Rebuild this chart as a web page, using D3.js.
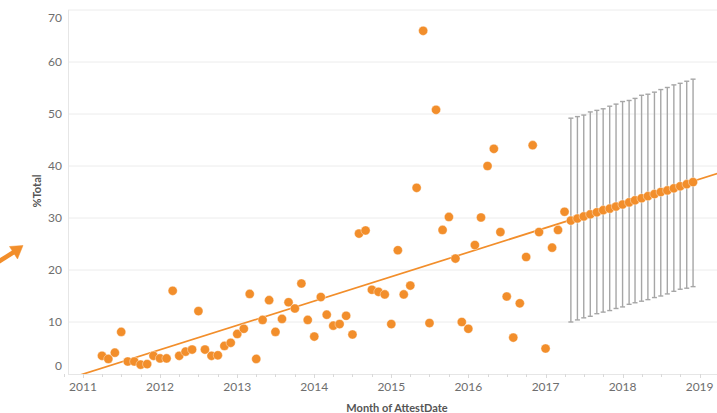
<!DOCTYPE html>
<html>
<head>
<meta charset="utf-8">
<script src="https://cdn.jsdelivr.net/npm/d3@7"></script>
<style>
  html, body { margin: 0; padding: 0; background: #fff; }
  svg { display: block; font-family: Lato, "Open Sans", sans-serif; }
</style>
</head>
<body>
<svg id="chart" width="717" height="413"></svg>
<script>
// actual monthly %Total, Apr 2011 .. Apr 2017
const actualStart = "2011-04";
const actualValues = [
  3.5, 2.9, 4.1, 8.1, 2.4, 2.4, 1.8, 1.9, 3.5,
  3.0, 3.0, 16.0, 3.5, 4.3, 4.7, 12.1, 4.7, 3.5, 3.6, 5.4, 6.0,
  7.7, 8.7, 15.4, 2.9, 10.4, 14.2, 8.1, 10.6, 13.8, 12.6, 17.4, 10.4,
  7.2, 14.8, 11.4, 9.3, 9.6, 11.2, 7.6, 27.0, 27.6, 16.2, 15.8, 15.3,
  9.6, 23.8, 15.3, 17.0, 35.8, 66.0, 9.8, 50.8, 27.7, 30.2, 22.2, 10.0,
  8.7, 24.8, 30.1, 40.0, 43.3, 27.3, 14.9, 7.0, 13.6, 22.5, 44.0, 27.3,
  4.9, 24.3, 27.7, 31.2
];

// forecast May 2017 .. Dec 2018 with prediction interval
const forecastStart = "2017-05";
const forecastValues = [29.5, 29.9, 30.3, 30.7, 31.1, 31.5, 31.8, 32.2, 32.6, 33.0,
                        33.4, 33.8, 34.2, 34.6, 35.0, 35.3, 35.7, 36.1, 36.5, 36.9];
const forecastUpper = [49.2, 49.5, 49.8, 50.4, 50.7, 51.0, 51.5, 51.9, 52.4, 52.6,
                       53.0, 53.6, 53.8, 54.2, 54.7, 55.1, 55.6, 55.9, 56.3, 56.7];
const forecastLower = [10.0, 10.4, 10.8, 11.1, 11.6, 11.9, 12.2, 12.6, 12.9, 13.4,
                       13.7, 14.0, 14.3, 14.7, 15.0, 15.4, 15.9, 16.3, 16.5, 16.8];

// linear trend line end points
const trendDates = ["2010-10", "2019-05"];
const trendValues = [-1.2, 39.0];

const yTicks = [0, 10, 20, 30, 40, 50, 60, 70];
const yearTicks = ["2011", "2012", "2013", "2014", "2015", "2016", "2017", "2018", "2019"];

const orange = "#f28e2b";
const parseMonth = d3.timeParse("%Y-%m");
const parseYear = d3.timeParse("%Y");

const plot = { left: 68, right: 717, top: 10, bottom: 374 };

const x = d3.scaleTime()
  .domain([parseYear("2011"), parseYear("2019")])
  .range([83, 699.6]);
const y = d3.scaleLinear().domain([0, 70]).range([plot.bottom, plot.top]);

function monthsFrom(start, n) {
  const s = parseMonth(start);
  return d3.timeMonth.range(s, d3.timeMonth.offset(s, n));
}

const actual = monthsFrom(actualStart, actualValues.length)
  .map((d, i) => ({ date: d, value: actualValues[i] }));
const forecast = monthsFrom(forecastStart, forecastValues.length)
  .map((d, i) => ({ date: d, value: forecastValues[i], hi: forecastUpper[i], lo: forecastLower[i] }));

const svg = d3.select("#chart");

svg.append("defs").append("clipPath").attr("id", "plot-clip")
  .append("rect")
  .attr("x", plot.left).attr("y", plot.top - 6)
  .attr("width", plot.right - plot.left).attr("height", plot.bottom - plot.top + 6);

// Gridlines
svg.append("g")
  .selectAll("line")
  .data(yTicks.filter(t => t > 0))
  .join("line")
  .attr("x1", plot.left).attr("x2", plot.right)
  .attr("y1", d => y(d)).attr("y2", d => y(d))
  .attr("stroke", "#ececec").attr("stroke-width", 1);

// Axis lines
svg.append("line")
  .attr("x1", plot.left + 0.5).attr("x2", plot.left + 0.5)
  .attr("y1", plot.top).attr("y2", plot.bottom)
  .attr("stroke", "#e6e6e6");
svg.append("line")
  .attr("x1", plot.left).attr("x2", plot.right)
  .attr("y1", plot.bottom + 0.5).attr("y2", plot.bottom + 0.5)
  .attr("stroke", "#e6e6e6");

// Quarter ticks along the bottom
const quarterTicks = d3.timeMonth.every(3).range(parseMonth("2010-10"), parseMonth("2019-04"));
svg.append("g")
  .selectAll("line")
  .data(quarterTicks)
  .join("line")
  .attr("x1", d => Math.round(x(d)) + 0.5).attr("x2", d => Math.round(x(d)) + 0.5)
  .attr("y1", plot.bottom).attr("y2", d => plot.bottom + (d.getMonth() === 0 ? 4 : 3))
  .attr("stroke", "#d9d9d9");

// Y tick labels (end labels pulled inward like Tableau)
svg.append("g")
  .selectAll("text")
  .data(yTicks)
  .join("text")
  .attr("x", 62)
  .attr("y", d => y(d) + (d === 0 ? -8 : d === 70 ? 8 : 0))
  .attr("dy", "0.35em")
  .attr("text-anchor", "end")
  .attr("fill", "#6e6e6e")
  .style("font-size", "12px")
  .text(d => d);

// X tick labels
svg.append("g")
  .selectAll("text")
  .data(yearTicks)
  .join("text")
  .attr("x", d => x(parseYear(d)))
  .attr("y", 387)
  .attr("dy", "0.35em")
  .attr("text-anchor", "middle")
  .attr("fill", "#6e6e6e")
  .style("font-size", "12px")
  .text(d => d);

// Axis titles
svg.append("text")
  .attr("x", 397).attr("y", 408)
  .attr("dy", "0.35em")
  .attr("text-anchor", "middle")
  .attr("fill", "#555")
  .style("font-size", "11px")
  .style("font-weight", "bold")
  .text("Month of AttestDate");

svg.append("text")
  .attr("transform", "translate(37,191) rotate(-90)")
  .attr("dy", "0.35em")
  .attr("text-anchor", "middle")
  .attr("fill", "#555")
  .style("font-size", "11px")
  .style("font-weight", "bold")
  .text("%Total");

const g = svg.append("g").attr("clip-path", "url(#plot-clip)");

// Forecast interval bars
const bars = g.append("g")
  .attr("stroke", "#a6a6a6")
  .attr("stroke-width", 1.4)
  .selectAll("g")
  .data(forecast)
  .join("g");
bars.append("line")
  .attr("x1", d => x(d.date)).attr("x2", d => x(d.date))
  .attr("y1", d => y(d.hi)).attr("y2", d => y(d.lo));
bars.append("line")
  .attr("x1", d => x(d.date) - 2.5).attr("x2", d => x(d.date) + 2.5)
  .attr("y1", d => y(d.hi)).attr("y2", d => y(d.hi));
bars.append("line")
  .attr("x1", d => x(d.date) - 2.5).attr("x2", d => x(d.date) + 2.5)
  .attr("y1", d => y(d.lo)).attr("y2", d => y(d.lo));

// Trend line
g.append("path")
  .datum(trendDates.map((d, i) => ({ date: parseMonth(d), value: trendValues[i] })))
  .attr("fill", "none")
  .attr("stroke", orange)
  .attr("stroke-width", 1.7)
  .attr("d", d3.line().x(d => x(d.date)).y(d => y(d.value)));

// Points
g.append("g")
  .selectAll("circle")
  .data(actual.concat(forecast))
  .join("circle")
  .attr("cx", d => x(d.date))
  .attr("cy", d => y(d.value))
  .attr("r", 4.6)
  .attr("fill", orange)
  .attr("stroke", "#fff")
  .attr("stroke-width", 0.4);

// Annotation arrow at the left edge
const arrow = svg.append("g").attr("fill", orange).attr("stroke", orange);
arrow.append("line")
  .attr("x1", -2).attr("y1", 262).attr("x2", 14).attr("y2", 252)
  .attr("stroke-width", 4.5);
arrow.append("path")
  .attr("d", "M23,245.5 L9.5,246.5 L17.5,259 Z")
  .attr("stroke-width", 0.5);
</script>
</body>
</html>
